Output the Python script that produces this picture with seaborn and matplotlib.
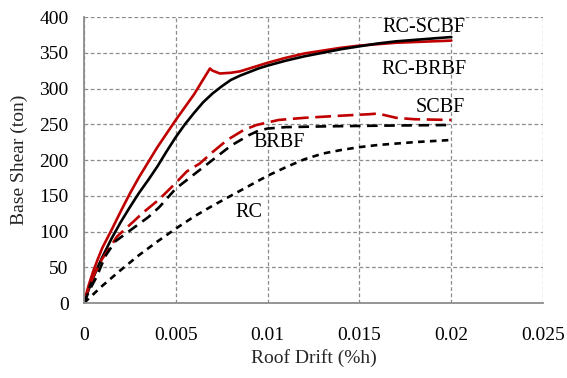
import matplotlib
matplotlib.use("Agg")
import matplotlib.pyplot as plt
import seaborn as sns
import pandas as pd

# ---- data ----
rc_scbf_x = [0, 0.00025, 0.0005, 0.00075, 0.001, 0.0015, 0.002, 0.0025, 0.003, 0.0035, 0.004, 0.005, 0.006,
             0.0065, 0.00686, 0.007, 0.0074, 0.008, 0.0085, 0.009, 0.01, 0.011, 0.012, 0.013, 0.014, 0.015,
             0.016, 0.017, 0.018, 0.019, 0.02]
rc_scbf_y = [0, 24, 44, 61, 77, 102, 128, 153, 176, 197, 218, 256, 292,
             313, 328, 325, 321, 322, 324, 328, 336, 343, 349, 353, 357, 360,
             362, 364, 365, 366, 367]

rc_brbf_x = [0, 0.00025, 0.0005, 0.00075, 0.001, 0.0015, 0.002, 0.0025, 0.003, 0.0035, 0.004, 0.0045, 0.005,
             0.0055, 0.006, 0.0065, 0.007, 0.0075, 0.008, 0.0085, 0.009, 0.0095, 0.01, 0.011, 0.012, 0.013,
             0.014, 0.015, 0.016, 0.017, 0.018, 0.019, 0.02]
rc_brbf_y = [0, 18, 35, 50, 64, 90, 113, 134, 154, 172, 191, 212, 232,
             250, 266, 281, 293, 303, 312, 318, 323, 328, 332, 339, 345, 350,
             355, 359, 363, 366, 368, 370, 372]

scbf_x = [0, 0.0003, 0.0006, 0.001, 0.0014, 0.0018, 0.0027, 0.0032, 0.0041, 0.005, 0.0056, 0.0063, 0.007,
          0.0078, 0.0087, 0.0094, 0.0106, 0.012, 0.014, 0.0155, 0.016, 0.0165, 0.017, 0.018, 0.02]
scbf_y = [0, 25, 42, 62, 77, 93, 114, 126, 145, 168, 184, 195, 211,
          228, 242, 249, 256, 259, 262, 264, 265, 262, 259, 257, 256]

brbf_x = [0, 0.0003, 0.0007, 0.00115, 0.0017, 0.0027, 0.0035, 0.0041, 0.005, 0.006, 0.007, 0.008, 0.009,
          0.0095, 0.01, 0.011, 0.013, 0.016, 0.02]
brbf_y = [0, 18, 37, 65, 86, 105, 120, 134, 160, 180, 200, 220, 235,
          241, 244, 246, 247, 248, 249]

rc_x = [0, 0.0005, 0.001, 0.002, 0.003, 0.004, 0.005, 0.006, 0.007, 0.008, 0.009, 0.01, 0.011, 0.012, 0.013,
        0.014, 0.015, 0.016, 0.018, 0.02]
rc_y = [0, 12, 24, 46, 67, 86, 104, 121, 136, 150, 164, 178, 190, 201, 209,
        214, 218, 221, 225, 228]

x_ticks = [0, 0.005, 0.01, 0.015, 0.02, 0.025]
x_tick_labels = ["0", "0.005", "0.01", "0.015", "0.02", "0.025"]
y_ticks = [0, 50, 100, 150, 200, 250, 300, 350, 400]

labels = ["RC-SCBF", "RC-BRBF", "SCBF", "BRBF", "RC"]
label_pos_x = [0.0185, 0.0185, 0.0194, 0.0106, 0.0090]
label_pos_y = [385, 327, 274, 224, 126]

# ---- style ----
sns.set_style("white")
plt.rcParams["font.family"] = ["Liberation Serif", "DejaVu Serif"]

fig = plt.figure(figsize=(5.67, 3.78), dpi=100)
ax = fig.add_axes([0.148, 0.1984, 0.81, 0.7566])

red = "#C00000"
blk = "#000000"
series = [
    (rc_scbf_x, rc_scbf_y, red, "-"),
    (rc_brbf_x, rc_brbf_y, blk, "-"),
    (scbf_x, scbf_y, red, (0, (6, 2.5))),
    (brbf_x, brbf_y, blk, (0, (4, 2.5))),
    (rc_x, rc_y, blk, (0, (2.5, 2))),
]
for xs, ys, c, ls in series:
    df = pd.DataFrame({"x": xs, "y": ys})
    sns.lineplot(data=df, x="x", y="y", color=c, ax=ax, linewidth=1.9, errorbar=None)
    ax.lines[-1].set_linestyle(ls)

ax.set_xlim(0, 0.025)
ax.set_ylim(0, 400)
ax.set_xticks(x_ticks)
ax.set_xticklabels(x_tick_labels)
ax.set_yticks(y_ticks)

ax.grid(True, color="#8c8c8c", linestyle=(0, (3, 2)), linewidth=0.9)
ax.set_axisbelow(True)
for s in ["top", "right"]:
    ax.spines[s].set_visible(False)
for s in ["left", "bottom"]:
    ax.spines[s].set_color("#8c8c8c")
    ax.spines[s].set_linewidth(1.3)

ax.tick_params(axis="both", colors="#8c8c8c", labelcolor="black", labelsize=14,
               length=4, width=1.0)
ax.tick_params(axis="x", direction="out", pad=13)
ax.tick_params(axis="y", direction="out", pad=7)

ax.set_xlabel("Roof Drift (%h)", fontsize=14, labelpad=4)
ax.set_ylabel("Base Shear (ton)", fontsize=14, labelpad=8)

for t, tx, ty in zip(labels, label_pos_x, label_pos_y):
    ax.text(tx, ty, t, fontsize=14.5, ha="center", va="center", color="black")

fig.savefig("out.png", dpi=100)
